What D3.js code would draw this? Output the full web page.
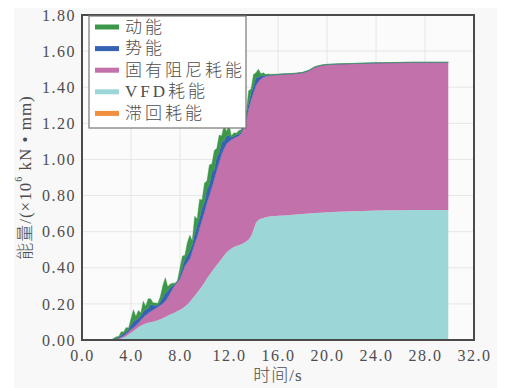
<!DOCTYPE html>
<html>
<head>
<meta charset="utf-8">
<script src="https://cdn.jsdelivr.net/npm/d3@7"></script>
<style>
  html, body { margin: 0; padding: 0; background: #ffffff; }
  svg { display: block; }
</style>
</head>
<body>
<svg id="chart" width="509" height="388"></svg>
<script>
// Time (s)
const time = [
  2.4, 2.6, 2.8, 3.0, 3.2, 3.4, 3.6, 3.8, 4.0, 4.2,
  4.4, 4.6, 4.8, 5.0, 5.2, 5.4, 5.6, 5.8, 6.0, 6.2,
  6.4, 6.6, 6.8, 7.0, 7.2, 7.4, 7.6, 7.8, 8.0, 8.2,
  8.4, 8.6, 8.8, 9.0, 9.2, 9.4, 9.6, 9.8, 10.0, 10.2,
  10.4, 10.6, 10.8, 11.0, 11.2, 11.4, 11.6, 11.8, 12.0, 12.2,
  12.4, 12.6, 12.8, 13.0, 13.2, 13.4, 13.6, 13.8, 14.0, 14.2,
  14.4, 14.6, 14.8, 15.0, 15.2, 15.4, 15.6, 16.0, 16.5, 17.0,
  17.5, 18.0, 18.5, 19.0, 19.5, 20.0, 21.0, 22.0, 23.0, 24.0,
  25.0, 26.0, 27.0, 28.0, 29.0, 29.9
];

// VFD energy dissipation (×10^6 kN·mm)
const vfdEnergy = [
  0, 0, 0.002, 0.004, 0.008, 0.014, 0.021, 0.030, 0.040, 0.050,
  0.060, 0.071, 0.079, 0.086, 0.091, 0.095, 0.098, 0.101, 0.105, 0.110,
  0.115, 0.121, 0.128, 0.135, 0.141, 0.147, 0.153, 0.160, 0.167, 0.175,
  0.185, 0.197, 0.212, 0.228, 0.245, 0.262, 0.280, 0.298, 0.318, 0.340,
  0.360, 0.380, 0.398, 0.415, 0.432, 0.450, 0.468, 0.485, 0.497, 0.507,
  0.515, 0.520, 0.525, 0.530, 0.537, 0.545, 0.555, 0.575, 0.610, 0.650,
  0.665, 0.672, 0.676, 0.680, 0.683, 0.685, 0.686, 0.688, 0.690, 0.692,
  0.695, 0.698, 0.700, 0.703, 0.705, 0.708, 0.711, 0.713, 0.715, 0.717,
  0.718, 0.719, 0.720, 0.720, 0.720, 0.720
];

// Inherent damping energy dissipation
const dampingEnergy = [
  0, 0.002, 0.004, 0.006, 0.008, 0.010, 0.013, 0.016, 0.018, 0.018,
  0.020, 0.023, 0.031, 0.039, 0.046, 0.053, 0.060, 0.065, 0.070, 0.074,
  0.078, 0.081, 0.087, 0.100, 0.119, 0.138, 0.152, 0.160, 0.173, 0.200,
  0.225, 0.233, 0.238, 0.262, 0.290, 0.308, 0.340, 0.367, 0.392, 0.420,
  0.440, 0.465, 0.492, 0.525, 0.553, 0.580, 0.592, 0.600, 0.603, 0.603,
  0.603, 0.605, 0.605, 0.615, 0.638, 0.675, 0.725, 0.755, 0.760, 0.760,
  0.765, 0.773, 0.779, 0.780, 0.780, 0.780, 0.781, 0.781, 0.781, 0.781,
  0.781, 0.782, 0.790, 0.807, 0.815, 0.817, 0.817, 0.817, 0.817, 0.817,
  0.817, 0.817, 0.817, 0.817, 0.817, 0.817
];

// Hysteretic energy dissipation
const hystereticEnergy = [
  0, 0, 0, 0, 0, 0, 0, 0, 0, 0,
  0, 0, 0, 0, 0, 0, 0, 0, 0, 0,
  0, 0, 0, 0, 0, 0, 0, 0, 0, 0,
  0, 0, 0, 0, 0, 0, 0, 0, 0, 0,
  0, 0, 0, 0, 0, 0, 0, 0, 0, 0,
  0, 0, 0, 0, 0, 0, 0, 0, 0, 0,
  0, 0, 0, 0, 0, 0, 0, 0, 0, 0,
  0, 0, 0, 0, 0, 0, 0, 0, 0, 0,
  0, 0, 0, 0, 0, 0
];

// Potential energy
const potentialEnergy = [
  0, 0.004, 0.004, 0.006, 0.010, 0.013, 0.012, 0.013, 0.025, 0.035,
  0.032, 0.025, 0.026, 0.032, 0.032, 0.028, 0.040, 0.026, 0.018, 0.010,
  0.020, 0.035, 0.045, 0.038, 0.030, 0.018, 0.006, 0.005, 0.020, 0.032,
  0.038, 0.038, 0.045, 0.040, 0.052, 0.065, 0.056, 0.070, 0.056, 0.078,
  0.060, 0.084, 0.056, 0.078, 0.052, 0.065, 0.045, 0.045, 0.032, 0.013,
  0.010, 0.013, 0.010, 0.013, 0.014, 0.019, 0.035, 0.039, 0.035, 0.045,
  0.025, 0.019, 0.010, 0.006, 0.004, 0.003, 0.002, 0.002, 0.002, 0.001,
  0.001, 0.001, 0.002, 0.002, 0.001, 0.001, 0.001, 0.001, 0.001, 0.001,
  0.001, 0.001, 0.001, 0.001, 0.001, 0.001
];

// Kinetic energy
const kineticEnergy = [
  0, 0.004, 0.008, 0.004, 0.020, 0.007, 0.023, 0.007, 0.035, 0.065,
  0.018, 0.045, 0.014, 0.058, 0.018, 0.052, 0.030, 0.014, 0.012, 0.010,
  0.030, 0.065, 0.085, 0.022, 0.020, 0.012, 0.004, 0.005, 0.040, 0.058,
  0.022, 0.072, 0.085, 0.020, 0.098, 0.035, 0.104, 0.040, 0.104, 0.042,
  0.110, 0.046, 0.104, 0.042, 0.098, 0.035, 0.085, 0.025, 0.058, 0.007,
  0.020, 0.007, 0.020, 0.007, 0.026, 0.011, 0.065, 0.021, 0.065, 0.025,
  0.045, 0.011, 0.015, 0.004, 0.006, 0.003, 0.003, 0.002, 0.002, 0.002,
  0.002, 0.002, 0.002, 0.002, 0.002, 0.001, 0.001, 0.001, 0.001, 0.001,
  0.001, 0.001, 0.001, 0.001, 0.001, 0.001
];

const legendNames = ["动能", "势能", "固有阻尼耗能", "VFD耗能", "滞回耗能"];
const xTicks = [0, 4, 8, 12, 16, 20, 24, 28, 32];
const yTicks = [0, 0.2, 0.4, 0.6, 0.8, 1.0, 1.2, 1.4, 1.6, 1.8];

// Stack order, bottom to top
const keys = ["vfd", "damping", "hysteretic", "potential", "kinetic"];
const colors = {
  kinetic: "#3c9748",
  potential: "#3761b1",
  damping: "#c371aa",
  vfd: "#9dd6d6",
  hysteretic: "#f0903e"
};
const legendKeys = ["kinetic", "potential", "damping", "vfd", "hysteretic"];

const rows = time.map((t, i) => ({
  t,
  vfd: vfdEnergy[i],
  damping: dampingEnergy[i],
  hysteretic: hystereticEnergy[i],
  potential: potentialEnergy[i],
  kinetic: kineticEnergy[i]
}));

const svg = d3.select("#chart");
const plot = { left: 82, right: 474, top: 15, bottom: 340 };

const x = d3.scaleLinear().domain([0, 32]).range([plot.left, plot.right]);
const y = d3.scaleLinear().domain([0, 1.8]).range([plot.bottom, plot.top]);

const serif = "'Liberation Serif', 'Times New Roman', 'Noto Sans CJK SC', serif";
const textColor = "#4d4d4d";

// panel background
svg.append("rect").attr("x", 14).attr("y", 8).attr("width", 483).attr("height", 380)
  .attr("fill", "#f8f8f8");
svg.append("rect").attr("x", plot.left).attr("y", plot.top)
  .attr("width", plot.right - plot.left).attr("height", plot.bottom - plot.top)
  .attr("fill", "#fbfbfb");

// grid
const grid = svg.append("g").attr("stroke", "#e6e6e6").attr("stroke-width", 1);
grid.selectAll("line.v").data(xTicks).join("line")
  .attr("x1", d => x(d)).attr("x2", d => x(d))
  .attr("y1", plot.top).attr("y2", plot.bottom);
grid.selectAll("line.h").data(yTicks).join("line")
  .attr("x1", plot.left).attr("x2", plot.right)
  .attr("y1", d => y(d)).attr("y2", d => y(d));

// stacked areas
svg.append("clipPath").attr("id", "plotClip").append("rect")
  .attr("x", plot.left).attr("y", plot.top)
  .attr("width", plot.right - plot.left).attr("height", plot.bottom - plot.top);

const stacked = d3.stack().keys(keys)(rows);
const area = d3.area()
  .x(d => x(d.data.t))
  .y0(d => y(d[0]))
  .y1(d => y(d[1]));

svg.append("g").attr("clip-path", "url(#plotClip)")
  .selectAll("path").data(stacked).join("path")
  .attr("d", area)
  .attr("fill", d => colors[d.key])
  .attr("stroke", d => colors[d.key])
  .attr("stroke-width", d => (d.key === "kinetic" || d.key === "potential") ? 0.4 : 0)
  .attr("stroke-linejoin", "round");

// axes
const yAxis = svg.append("g").attr("transform", `translate(${plot.left},0)`)
  .call(d3.axisLeft(y).tickValues(yTicks).tickFormat(d3.format(".2f")).tickSize(0).tickPadding(6));
const xAxis = svg.append("g").attr("transform", `translate(0,${plot.bottom})`)
  .call(d3.axisBottom(x).tickValues(xTicks).tickFormat(d3.format(".1f")).tickSize(0).tickPadding(10));
[xAxis, yAxis].forEach(g => {
  g.select(".domain").remove();
  g.selectAll("text")
    .attr("font-family", serif)
    .attr("font-size", 16)
    .attr("letter-spacing", 1.5)
    .attr("fill", textColor);
});

// frame
svg.append("rect").attr("x", plot.left).attr("y", plot.top)
  .attr("width", plot.right - plot.left).attr("height", plot.bottom - plot.top)
  .attr("fill", "none").attr("stroke", "#4a4a4a").attr("stroke-width", 2);

// axis titles
svg.append("text")
  .attr("x", (plot.left + plot.right) / 2).attr("y", 381)
  .attr("text-anchor", "middle")
  .attr("font-family", serif).attr("font-size", 17).attr("font-weight", 300)
  .attr("letter-spacing", 1)
  .attr("fill", textColor)
  .text("时间/s");

const yTitle = svg.append("text")
  .attr("transform", `translate(25,${(plot.top + plot.bottom) / 2}) rotate(-90)`)
  .attr("text-anchor", "middle")
  .attr("dominant-baseline", "central")
  .attr("font-family", serif).attr("font-size", 17).attr("font-weight", 300)
  .attr("letter-spacing", 1)
  .attr("fill", textColor);
yTitle.append("tspan").text("能量/(×10");
yTitle.append("tspan").attr("font-size", 10).attr("dy", -7).text("6");
yTitle.append("tspan").attr("dy", 7).text(" kN • mm)");

// legend
const legend = svg.append("g");
legend.append("rect")
  .attr("x", 89).attr("y", 16).attr("width", 157).attr("height", 112)
  .attr("fill", "#ffffff").attr("stroke", "#777777").attr("stroke-width", 1.2);
const item = legend.selectAll("g.item").data(legendKeys).join("g")
  .attr("transform", (d, i) => `translate(0,${27 + i * 21.6})`);
item.append("rect")
  .attr("x", 95).attr("y", -2.5).attr("width", 24).attr("height", 5)
  .attr("fill", d => colors[d]);
item.append("text")
  .attr("x", 125).attr("y", 0)
  .attr("dominant-baseline", "central")
  .attr("font-family", serif).attr("font-size", 17).attr("font-weight", 300)
  .attr("letter-spacing", 3)
  .attr("fill", textColor)
  .text((d, i) => legendNames[i]);
</script>
</body>
</html>
